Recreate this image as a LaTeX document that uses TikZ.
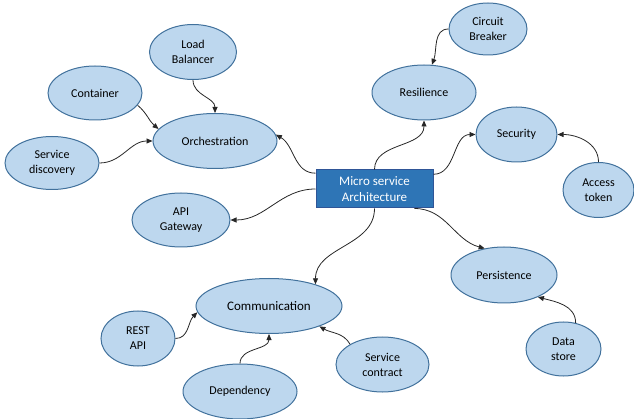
\documentclass[tikz,border=0pt]{standalone}
\usepackage{fontspec}
\setmainfont{Carlito}
\usetikzlibrary{shapes.geometric,arrows.meta}
\definecolor{efill}{HTML}{BDD7EE}
\definecolor{edraw}{HTML}{41719C}
\definecolor{bfill}{HTML}{2E75B6}
\definecolor{bdraw}{HTML}{2F5597}
\begin{document}
\begin{tikzpicture}[x=1pt,y=1pt,
 topic/.style={ellipse,draw=edraw,fill=efill,line width=1pt,inner sep=0pt,align=center,font=\fontsize{12}{15}\selectfont},
 mainbox/.style={rectangle,draw=bdraw,fill=bfill,line width=1pt,inner sep=0pt,align=center,text=white,font=\fontsize{13}{15.5}\selectfont},
 conn/.style={line width=0.8pt,-{Triangle[length=6pt,width=5pt]},draw=black!85}]
\useasboundingbox (0,0) rectangle (634,-419);
\node[topic,minimum width=87pt,minimum height=55pt] (lb) at (193,-52) {Load\\Balancer};
\node[topic,minimum width=94pt,minimum height=54pt] (cont) at (95,-93) {Container};
\node[topic,minimum width=124pt,minimum height=55pt] (orch) at (215,-141) {Orchestration};
\node[topic,minimum width=94pt,minimum height=53pt] (sd) at (52,-163) {Service\\discovery};
\node[topic,minimum width=98pt,minimum height=54pt] (api) at (181,-220) {API\\Gateway};
\node[topic,minimum width=146pt,minimum height=55pt,font=\fontsize{13}{15.5}\selectfont] (comm) at (269,-306) {Communication};
\node[topic,minimum width=74pt,minimum height=55pt] (rest) at (138,-338.5) {REST\\API};
\node[topic,minimum width=114pt,minimum height=55pt] (dep) at (240,-391.5) {Dependency};
\node[topic,minimum width=93pt,minimum height=55pt] (sc) at (382.5,-364.5) {Service\\contract};
\node[topic,minimum width=106pt,minimum height=56pt] (pers) at (504,-275) {Persistence};
\node[topic,minimum width=75pt,minimum height=54pt] (ds) at (563.5,-349) {Data\\store};
\node[mainbox,minimum width=117pt,minimum height=38pt] (box) at (374.5,-189) {Micro service\\Architecture};
\node[topic,minimum width=104pt,minimum height=55pt] (res) at (424,-92.5) {Resilience};
\node[topic,minimum width=78pt,minimum height=52pt] (cb) at (488,-29) {Circuit\\Breaker};
\node[topic,minimum width=81pt,minimum height=55pt] (sec) at (516.5,-134.5) {Security};
\node[topic,minimum width=71pt,minimum height=55pt] (at) at (598.5,-190) {Access\\token};
\draw[conn] (lb.south) to[out=-90,in=90] (orch.north);
\draw[conn] (cont.-16) to[out=-40,in=140] (orch.168);
\draw[conn] (sd.east) to[out=0,in=180] (orch.west);
\draw[conn] (box.165) to[out=180,in=-30] (orch.6);
\draw[conn] (box.west) to[out=180,in=0] (api.east);
\draw[conn] (box.south) to[out=-90,in=90] (comm.25);
\draw[conn] (box.-26) to[out=0,in=165] (pers.126);
\draw[conn] (box.north) to[out=90,in=-90] (res.south);
\draw[conn] (box.14) to[out=0,in=180] (sec.west);
\draw[conn] (cb.west) to[out=180,in=70] (res.74);
\draw[conn] (at.north) to[out=90,in=0] (sec.east);
\draw[conn] (ds.65) to[out=90,in=-15] (pers.-33);
\draw[conn] (rest.east) to[out=0,in=-135] (comm.185);
\draw[conn] (dep.north) to[out=90,in=-90] (comm.south);
\draw[conn] (sc.148) to[out=120,in=-30] (comm.-22);
\end{tikzpicture}
\end{document}
